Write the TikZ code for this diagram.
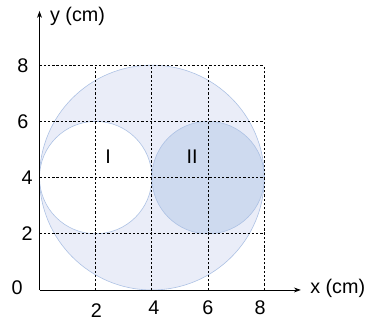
\documentclass[tikz,border=0pt]{standalone}
\usepackage{fontspec}
\setmainfont{Liberation Sans}
\usetikzlibrary{arrows.meta}
\definecolor{bigfill}{RGB}{234,237,248}
\definecolor{smallfill}{RGB}{206,218,239}
\definecolor{rimblue}{RGB}{172,193,228}
\tikzset{
  rim/.style={draw=rimblue, line width=0.6pt},
  gridline/.style={black, line width=1pt, dash pattern=on 2.3pt off 2pt},
  axisline/.style={black, line width=0.9pt, -{Stealth[length=7pt,width=5pt]}},
  lbl/.style={font=\fontsize{20}{24}\selectfont, inner sep=0pt},
}
\begin{document}
\begin{tikzpicture}[x=1cm,y=1cm]
\useasboundingbox (-1.406,-1.103) rectangle (11.94,10.32);
% circles
\fill[bigfill] (4,4) circle (4);
\draw[rim] (4,4) circle (4);
\fill[white] (2,4) circle (2);
\draw[rim] (2,4) circle (2);
\fill[smallfill] (6,4) circle (2);
\draw[rim] (6,4) circle (2);
% grid
\foreach \v in {2,4,6,8} {
  \draw[gridline] (\v,0) -- (\v,8);
  \draw[gridline] (0,\v) -- (8,\v);
}
% axes
\coordinate (O) at (0,0);
\coordinate (xend) at (9.3,0);
\coordinate (yend) at (0,9.93);
\draw[axisline] (O) -- (xend);
\draw[axisline] (O) -- (yend);
% axis labels
\node[lbl, anchor=west] (ylab) at (0.37,9.72) {y (cm)};
\node[lbl, anchor=west] (xlab) at (9.63,0.07) {x (cm)};
\node[lbl] (zero) at (-0.8,0.07) {0};
\node[lbl] (y8) at (-0.59,7.97) {8};
\node[lbl] (y6) at (-0.59,5.98) {6};
\node[lbl] (y4) at (-0.44,4.0) {4};
\node[lbl] (y2) at (-0.44,2.0) {2};
\node[lbl] (x2) at (2.02,-0.72) {2};
\node[lbl] (x4) at (4.07,-0.64) {4};
\node[lbl] (x6) at (5.99,-0.64) {6};
\node[lbl] (x8) at (7.85,-0.64) {8};
\node[lbl] (cI) at (2.44,4.73) {I};
\node[lbl] (cII) at (5.43,4.73) {II};
\end{tikzpicture}
\end{document}
